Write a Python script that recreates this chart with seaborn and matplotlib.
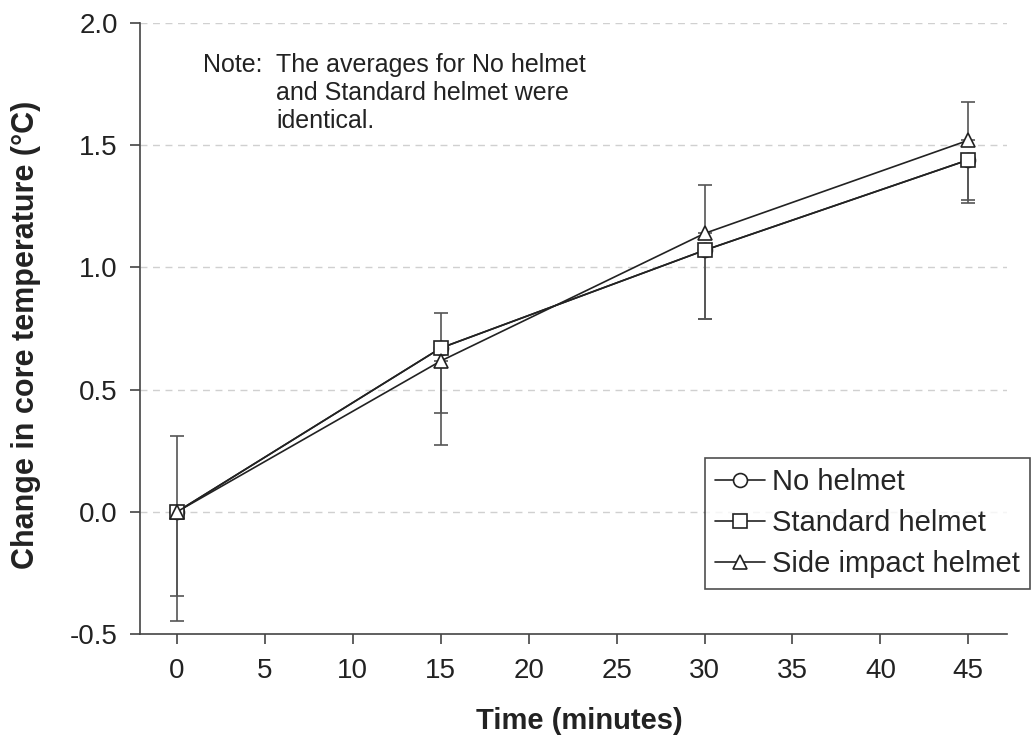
import matplotlib
matplotlib.use("Agg")
import matplotlib.pyplot as plt
from matplotlib.lines import Line2D
import numpy as np
import pandas as pd
import seaborn as sns

# data
minutes = [0, 15, 30, 45]
series_names = ["No helmet", "Standard helmet", "Side impact helmet"]
no_helmet = [0.0, 0.67, 1.07, 1.44]
standard_helmet = [0.0, 0.67, 1.07, 1.44]
side_impact = [0.0, 0.617, 1.139, 1.52]
# error bar ends (lower for the first two, upper for side impact)
no_helmet_low = [-0.344, 0.405, 0.79, 1.274]
standard_low = [-0.445, 0.274, 0.79, 1.264]
side_impact_high = [0.312, 0.815, 1.336, 1.675]

df = pd.DataFrame({
    "Time": minutes * 3,
    "Change": no_helmet + standard_helmet + side_impact,
    "Helmet": [n for n in series_names for _ in minutes],
})

sns.set_style("ticks")
plt.rcParams["font.family"] = ["Liberation Sans", "DejaVu Sans"]

fig = plt.figure(figsize=(10.34, 7.39), dpi=100)
ax = fig.add_axes([140 / 1034, 1 - 634 / 739, 867 / 1034, 611 / 739])

line_col = "#222222"
err_col = "#555555"

# error bars
x = np.array(minutes)
ax.errorbar(x, no_helmet, yerr=[np.array(no_helmet) - np.array(no_helmet_low), np.zeros(4)],
            fmt="none", ecolor=err_col, elinewidth=1.2, capsize=4.7, capthick=1.2, zorder=2)
ax.errorbar(x, standard_helmet, yerr=[np.array(standard_helmet) - np.array(standard_low), np.zeros(4)],
            fmt="none", ecolor=err_col, elinewidth=1.2, capsize=4.7, capthick=1.2, zorder=2)
ax.errorbar(x, side_impact, yerr=[np.zeros(4), np.array(side_impact_high) - np.array(side_impact)],
            fmt="none", ecolor=err_col, elinewidth=1.2, capsize=4.7, capthick=1.2, zorder=2)

markers = {"No helmet": "o", "Standard helmet": "s", "Side impact helmet": "^"}
sns.lineplot(data=df, x="Time", y="Change", style="Helmet", markers=markers, dashes=False,
             color=line_col, linewidth=1.2, markersize=10, markerfacecolor="white",
             markeredgecolor=line_col, markeredgewidth=1.2, legend=False, ax=ax, zorder=3)

ax.set_xlim(-2.1, 47.2)
ax.set_ylim(-0.5, 2.0)
ax.set_xticks(range(0, 50, 5))
ax.set_yticks([-0.5, 0.0, 0.5, 1.0, 1.5, 2.0])
ax.set_yticklabels(["-0.5", "0.0", "0.5", "1.0", "1.5", "2.0"])
for v in [0.0, 0.5, 1.0, 1.5, 2.0]:
    ax.axhline(v, color="#d0d0d0", linestyle=(0, (5, 4)), linewidth=1.0, zorder=1)

sns.despine(ax=ax)
for s in ["left", "bottom"]:
    ax.spines[s].set_color("#444444")
    ax.spines[s].set_linewidth(1.2)
ax.tick_params(axis="both", direction="out", length=7, width=1.2, color="#444444",
               labelsize=20, labelcolor="#222222")
ax.tick_params(axis="x", pad=10)
ax.tick_params(axis="y", pad=9)

ax.set_xlabel("Time (minutes)", fontsize=21, fontweight="bold", color="#222222")
ax.set_ylabel("Change in core temperature (°C)", fontsize=22, fontweight="bold", color="#222222")
ax.xaxis.set_label_coords(0.507, -0.119)
ax.yaxis.set_label_coords(-0.114, 0.49)

# note
note_kw = dict(fontsize=18, color="#222222", va="baseline")
fig.text(203 / 1034, 1 - 72 / 739, "Note:", **note_kw)
fig.text(276 / 1034, 1 - 72 / 739, "The averages for No helmet", **note_kw)
fig.text(276 / 1034, 1 - 100 / 739, "and Standard helmet were", **note_kw)
fig.text(276 / 1034, 1 - 128 / 739, "identical.", **note_kw)

handles = [Line2D([], [], color=line_col, linewidth=1.2, marker=markers[n], markersize=10,
                  markerfacecolor="white", markeredgecolor=line_col, markeredgewidth=1.2)
           for n in series_names]
leg = ax.legend(handles, series_names, loc="upper left",
                bbox_to_anchor=(705 / 1034, 1 - 458 / 739), bbox_transform=fig.transFigure,
                fontsize=21, frameon=True, fancybox=False,
                handlelength=1.7, handletextpad=0.25, labelspacing=0.45,
                borderpad=0.35, borderaxespad=0)
leg.get_frame().set_edgecolor("#222222")
leg.get_frame().set_linewidth(1.2)

fig.savefig("out.png", dpi=100)
